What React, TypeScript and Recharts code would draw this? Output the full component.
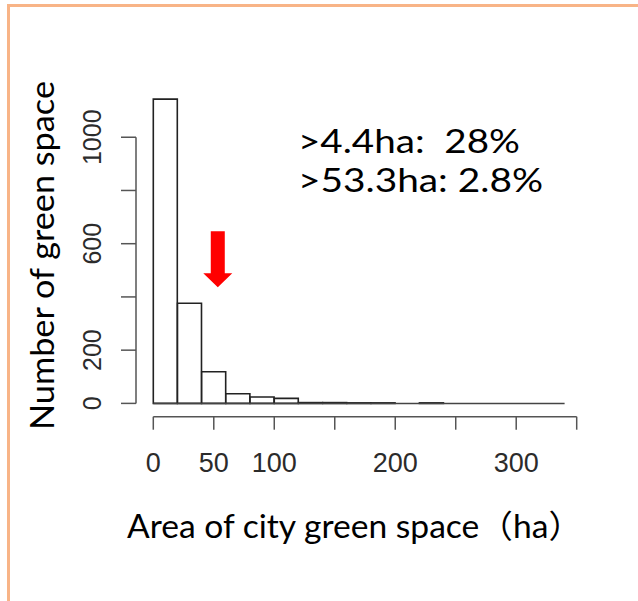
import { ComposedChart, Bar, XAxis, YAxis, ReferenceLine, ReferenceDot } from "recharts";

// histogram bins (ha) and green-space counts per bin
const binEdges = [0, 20, 40, 60, 80, 100, 120, 140, 160, 180, 200, 220, 240, 260, 280, 300, 320, 340];
const binCounts = [1143, 376, 119, 36, 24, 19, 3, 3, 2, 2, 0, 2, 0, 0, 0, 0, 0];

const xTicks = [0, 50, 100, 150, 200, 250, 300, 350];
const xTickLabels = ["0", "50", "100", "", "200", "", "300", ""];
const yTicks = [0, 200, 400, 600, 800, 1000];
const yTickLabels = ["0", "200", "", "600", "", "1000"];

const cutoff = 53.3;
const shareLines = [">4.4ha:  28%", ">53.3ha: 2.8%"];

const bins = binCounts.map((count, i) => ({
	mid: (binEdges[i] + binEdges[i + 1]) / 2,
	count,
}));

const X_DOMAIN = [-14.3, 350];
const Y_DOMAIN = [-50, 1200];
const ARROW_TIP = 436;

const axisColor = "#555";
const tickFont = "'Liberation Sans', Arial, sans-serif";
const titleFont = "Lato, 'Noto Sans CJK SC', sans-serif";

function XTick({ x, y, payload }: any) {
	const label = xTickLabels[xTicks.indexOf(payload.value)];
	if (!label) return <g />;
	return (
		<text x={x} y={y + 40} textAnchor="middle" fontSize={27} fill="#2b2b2b" fontFamily={tickFont}>
			{label}
		</text>
	);
}

function YTick({ x, y, payload }: any) {
	const label = yTickLabels[yTicks.indexOf(payload.value)];
	if (!label) return <g />;
	return (
		<text
			transform={`translate(${x - 18},${y}) rotate(-90)`}
			textAnchor="middle"
			fontSize={25}
			fill="#2b2b2b"
			fontFamily={tickFont}
		>
			{label}
		</text>
	);
}

function DownArrow({ cx, cy }: any) {
	const d = `M${cx - 7},${cy - 56} H${cx + 7} V${cy - 14} H${cx + 14.5} L${cx},${cy} L${cx - 14.5},${cy - 14} H${cx - 7} Z`;
	return <path d={d} fill="#ff0000" />;
}

export default function App() {
	return (
		<div style={{ position: "absolute", left: 0, top: 0, width: 638, height: 601, background: "#fff" }}>
			<div
				style={{
					position: "absolute",
					left: 7,
					top: 4,
					right: 0,
					bottom: 0,
					borderTop: "3px solid #f8b487",
					borderLeft: "3px solid #f8b487",
				}}
			/>
			<div style={{ position: "absolute", left: 0, top: 0 }}>
				<ComposedChart
					width={638}
					height={601}
					data={bins}
					margin={{ top: 84, right: 61.3, bottom: 144.3, left: 76 }}
					barCategoryGap={0}
				>
					<XAxis
						dataKey="mid"
						type="number"
						domain={X_DOMAIN}
						ticks={xTicks}
						axisLine={false}
						tickLine={{ stroke: axisColor, strokeWidth: 1.5 }}
						tickSize={13}
						height={40}
						tick={<XTick />}
						interval={0}
					/>
					<YAxis
						type="number"
						domain={Y_DOMAIN}
						ticks={yTicks}
						axisLine={false}
						tickLine={{ stroke: axisColor, strokeWidth: 1.5 }}
						tickSize={15}
						width={60}
						tick={<YTick />}
						interval={0}
					/>
					<ReferenceLine
						segment={[{ x: 0, y: 0 }, { x: 340, y: 0 }]}
						stroke="#444"
						strokeWidth={1.5}
						ifOverflow="visible"
					/>
					<Bar dataKey="count" fill="#fff" stroke="#222" strokeWidth={1.6} isAnimationActive={false} />
					<ReferenceLine
						segment={[{ x: X_DOMAIN[0], y: 0 }, { x: X_DOMAIN[0], y: 1000 }]}
						stroke={axisColor}
						strokeWidth={1.5}
						ifOverflow="visible"
					/>
					<ReferenceLine
						segment={[{ x: 0, y: Y_DOMAIN[0] }, { x: 350, y: Y_DOMAIN[0] }]}
						stroke={axisColor}
						strokeWidth={1.5}
						ifOverflow="visible"
					/>
					<ReferenceDot x={cutoff} y={ARROW_TIP} shape={<DownArrow />} ifOverflow="visible" />
				</ComposedChart>
			</div>
			<svg
				width={638}
				height={601}
				style={{ position: "absolute", left: 0, top: 0, pointerEvents: "none" }}
				fontFamily={titleFont}
				fill="#000"
			>
				<text
					transform="translate(54,255.5) rotate(-90)"
					textAnchor="middle"
					fontSize={32}
					textLength={349}
					lengthAdjust="spacingAndGlyphs"
				>
					Number of green space
				</text>
				<text x={127} y={538} fontSize={32} textLength={455} lengthAdjust="spacingAndGlyphs">
					Area of city green space（ha）
				</text>
				{shareLines.map((line, i) => (
					<text
						key={line}
						x={298}
						y={153 + i * 39}
						fontSize={32}
						textLength={i === 0 ? 222 : 245}
						lengthAdjust="spacingAndGlyphs"
						style={{ whiteSpace: "pre" }}
					>
						{line}
					</text>
				))}
			</svg>
		</div>
	);
}
